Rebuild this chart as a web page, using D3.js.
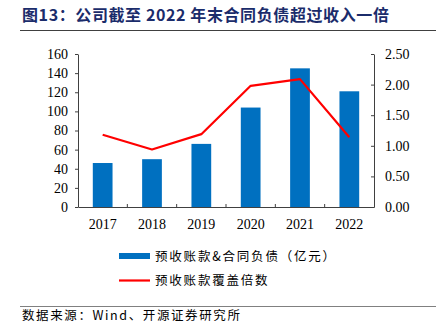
<!DOCTYPE html>
<html><head><meta charset="utf-8">
<script src="https://cdn.jsdelivr.net/npm/d3@7"></script>
<style>
body{margin:0;background:#fff;}
svg{display:block;}
</style></head>
<body>
<svg id="c" width="436" height="332"></svg>
<script>
const categories = ["2017","2018","2019","2020","2021","2022"];
const barValues = [46, 50, 66, 104, 145, 121];
const lineValues = [1.18, 0.94, 1.19, 1.98, 2.09, 1.14];
const leftTicks = [0,20,40,60,80,100,120,140,160];
const rightTicks = [0,0.5,1,1.5,2,2.5];
const titleText = "图13：公司截至 2022 年末合同负债超过收入一倍";
const legendLabels = ["预收账款&合同负债（亿元）","预收账款覆盖倍数"];
const sourceText = "数据来源：Wind、开源证券研究所";

const svg = d3.select("#c");
const serif = "'Liberation Serif','Times New Roman',serif";
const cjk = "'Noto Sans CJK SC','Noto Sans',sans-serif";

const L = 78, R = 374, T = 54, B = 207;
const x = d3.scaleBand().domain(categories).range([L, R]).paddingInner(0.6).paddingOuter(0.3);
const yL = d3.scaleLinear().domain([0,160]).range([B, T]);
const yR = d3.scaleLinear().domain([0,2.5]).range([B, T]);

// title
svg.append("text").attr("x", 22).attr("y", 21)
  .attr("font-family", cjk).attr("font-weight", "bold").attr("font-size", 16)
  .attr("letter-spacing", 0.6).attr("fill", "#1B2C6B").text(titleText);
svg.append("line").attr("x1", 20).attr("x2", 436).attr("y1", 30.5).attr("y2", 30.5)
  .attr("stroke", "#404040").attr("stroke-width", 1.2);

// bars
svg.append("g").selectAll("rect").data(categories).join("rect")
  .attr("x", d => x(d)).attr("width", x.bandwidth())
  .attr("y", (d,i) => yL(barValues[i])).attr("height", (d,i) => B - yL(barValues[i]))
  .attr("fill", "#0070C0");

// axes
const axL = svg.append("g").attr("transform", `translate(${L},0)`)
  .call(d3.axisLeft(yL).tickValues(leftTicks).tickSize(3).tickSizeOuter(0).tickFormat(d3.format("d")));
const axR = svg.append("g").attr("transform", `translate(${R},0)`)
  .call(d3.axisRight(yR).tickValues(rightTicks).tickSize(-3).tickSizeOuter(0).tickFormat(d3.format(".2f")));
const axX = svg.append("g").attr("transform", `translate(0,${B})`)
  .call(d3.axisBottom(x).tickSize(0).tickSizeOuter(0));
[axL, axR, axX].forEach(g => {
  g.selectAll("path").attr("stroke", "#404040");
  g.selectAll("line").attr("stroke", "#404040");
  g.selectAll("text").attr("font-family", serif).attr("font-size", 14).attr("fill", "#000");
});
axL.selectAll("text").attr("x", -10);
axR.selectAll("text").attr("x", 11);
axX.selectAll("text").attr("dy", "1.35em");
// x boundary ticks (inward)
const bounds = categories.slice(1).map(c => x(c) - x.step()*x.paddingInner()/2);
svg.append("g").selectAll("line").data(bounds).join("line")
  .attr("x1", d => d).attr("x2", d => d).attr("y1", B).attr("y2", B - 3)
  .attr("stroke", "#404040");

// line
const line = d3.line().x((d,i) => x(categories[i]) + x.bandwidth()/2).y(d => yR(d));
svg.append("path").datum(lineValues).attr("d", line)
  .attr("fill", "none").attr("stroke", "#FF0000").attr("stroke-width", 2.2)
  .attr("stroke-linejoin", "round");

// legend
const lg = svg.append("g");
lg.append("rect").attr("x", 119).attr("y", 253).attr("width", 31).attr("height", 6).attr("fill", "#0070C0");
lg.append("text").attr("x", 155).attr("y", 261).attr("font-family", cjk).attr("font-size", 12.5)
  .attr("letter-spacing", 1.8).attr("fill", "#000").text(legendLabels[0]);
lg.append("line").attr("x1", 119).attr("x2", 150).attr("y1", 280.5).attr("y2", 280.5)
  .attr("stroke", "#FF0000").attr("stroke-width", 2.2);
lg.append("text").attr("x", 155).attr("y", 285).attr("font-family", cjk).attr("font-size", 12.5)
  .attr("letter-spacing", 1.8).attr("fill", "#000").text(legendLabels[1]);

// footer
svg.append("line").attr("x1", 20).attr("x2", 436).attr("y1", 306.5).attr("y2", 306.5)
  .attr("stroke", "#808080").attr("stroke-width", 1.2);
svg.append("text").attr("x", 22).attr("y", 320).attr("font-family", cjk).attr("font-size", 12.5)
  .attr("letter-spacing", 1.6).attr("fill", "#000").text(sourceText);
</script>
</body></html>
